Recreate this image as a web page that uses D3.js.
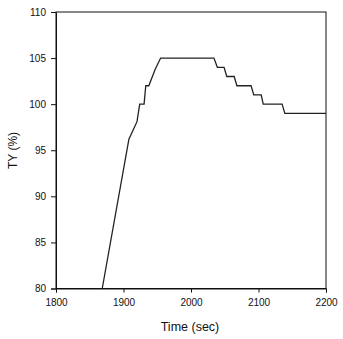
<!DOCTYPE html>
<html>
<head>
<meta charset="utf-8">
<script src="https://cdn.jsdelivr.net/npm/d3@7"></script>
<style>
  body { margin: 0; background: #fff; }
  text { font-family: "Liberation Sans", Arial, sans-serif; fill: #111; }
</style>
</head>
<body>
<svg width="343" height="339"></svg>
<script>
var time = [1868.5, 1908, 1920, 1924, 1930.5, 1933, 1937.5, 1947, 1955, 2034, 2039, 2049, 2053, 2064, 2068, 2089, 2093, 2104, 2107, 2135, 2139, 2200]
var ty   = [80, 96.2, 98.1, 100, 100, 102, 102, 103.8, 105, 105, 104, 104, 103, 103, 102, 102, 101, 101, 100, 100, 99, 99]
var xTicks = [1800, 1900, 2000, 2100, 2200]
var yTicks = [80, 85, 90, 95, 100, 105, 110]

var svg = d3.select('svg')
var pLeft = 56, pRight = 326, pTop = 12, pBottom = 288.5

var x = d3.scaleLinear().domain([1800, 2200]).range([pLeft, pRight])
var y = d3.scaleLinear().domain([80, 110]).range([pBottom, pTop])

// frame
svg.append('rect')
  .attr('x', pLeft).attr('y', pTop)
  .attr('width', pRight - pLeft).attr('height', pBottom - pTop)
  .attr('fill', 'none').attr('stroke', '#111').attr('stroke-width', 1)

svg.append('g')
  .attr('transform', 'translate(0,' + pBottom + ')')
  .call(d3.axisBottom(x).tickValues(xTicks).tickSize(4).tickPadding(6).tickFormat(d3.format('d')))
svg.append('g')
  .attr('transform', 'translate(' + pLeft + ',0)')
  .call(d3.axisLeft(y).tickValues(yTicks).tickSize(5).tickPadding(5).tickFormat(d3.format('d')))

svg.selectAll('.domain').attr('stroke', '#111')
svg.selectAll('.tick line').attr('stroke', '#111')
svg.selectAll('.tick text')
  .style('font-family', '"Liberation Sans", Arial, sans-serif')
  .style('font-size', '10px').attr('fill', '#111')

var data = time.map(function (t, i) { return [t, ty[i]] })
svg.append('path')
  .datum(data)
  .attr('fill', 'none')
  .attr('stroke', '#222')
  .attr('stroke-width', 1.3)
  .attr('d', d3.line().x(function (d) { return x(d[0]) }).y(function (d) { return y(d[1]) }))

svg.append('text')
  .attr('x', 190).attr('y', 330.5)
  .attr('text-anchor', 'middle')
  .style('font-size', '12.5px')
  .text('Time (sec)')

svg.append('text')
  .attr('transform', 'translate(16.5,150.5) rotate(-90)')
  .attr('text-anchor', 'middle')
  .style('font-size', '12px')
  .text('TY (%)')
</script>
</body>
</html>
